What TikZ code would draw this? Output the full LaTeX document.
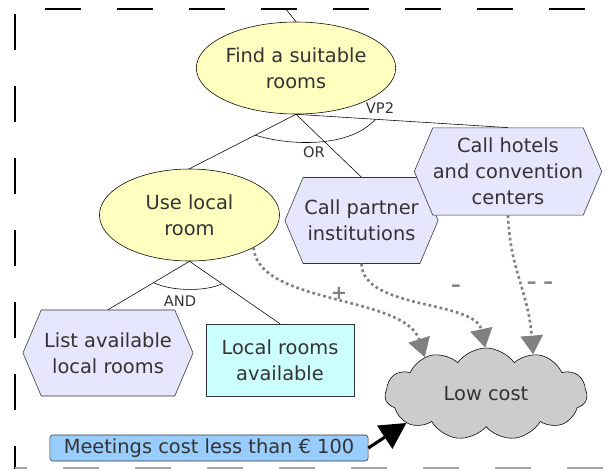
\documentclass[tikz,border=0pt]{standalone}
\usepackage{fontspec}
\setmainfont{DejaVu Sans}
\usetikzlibrary{shapes.geometric,shapes.symbols,arrows.meta,calc}

\definecolor{txt}{RGB}{51,51,51}
\definecolor{goalfill}{RGB}{255,255,192}
\definecolor{taskfill}{RGB}{230,230,255}
\definecolor{resfill}{RGB}{204,255,255}
\definecolor{softfill}{RGB}{204,204,204}
\definecolor{beliefill}{RGB}{153,204,255}
\newcommand{\diafont}{\fontsize{13.8pt}{18.5pt}\selectfont}
\newcommand{\smallfont}{\fontsize{10.4pt}{12pt}\selectfont}

\tikzset{
  goal/.style={ellipse, draw=black, fill=goalfill, text=txt, font=\diafont,
    align=center, inner sep=0pt, minimum width=4.5cm, minimum height=2.3cm},
  task/.style={signal, signal to=west and east, signal pointer angle=134,
    draw=txt, fill=taskfill, text=txt, font=\diafont, align=center,
    inner sep=0pt, minimum height=2.15cm},
  resource/.style={rectangle, draw=txt, fill=resfill, text=txt, font=\diafont,
    align=center, inner sep=0pt, minimum width=3.7cm, minimum height=1.8cm},
  softgoal/.style={cloud, cloud puffs=11, cloud puff arc=110, cloud ignores aspect,
    draw=black, fill=softfill, text=txt, font=\diafont, inner sep=0pt,
    minimum width=5.05cm, minimum height=2.3cm},
  belief/.style={rectangle, rounded corners=2pt, draw=txt, fill=beliefill,
    text=txt, font=\diafont, inner sep=0pt, minimum width=7.95cm,
    minimum height=0.65cm},
  contrib/.style={draw=gray, line width=1.9pt, dash pattern=on 1.9pt off 2.1pt,
    -{Triangle[width=0.55cm,length=0.47cm,fill=gray]}},
  sign/.style={text=gray, font=\diafont\bfseries},
  link/.style={text=txt, font=\smallfont}
}

\begin{document}
\begin{tikzpicture}[x=0.025cm,y=-0.025cm]
    \useasboundingbox (0,0) rectangle (609,469);
    % Boundary
    \draw[line width=1.4pt, dash pattern=on 0.9cm off 0.9cm] (45,9) -- (609,9);
    \draw[line width=1.4pt, dash pattern=on 0.9cm off 0.9cm] (15,14) -- (15,469);
    \draw[gray!70, line width=0.8pt, dash pattern=on 0.9cm off 0.9cm, dash phase=0.6cm] (15,468) -- (609,468);
    % Elements
    \node[goal] (find) at (296,68) {Find a suitable\\rooms};
    \node[goal] (uselocal) at (189.5,215) {Use local\\room};
    \node[task, minimum width=3.83cm] (partner) at (361.5,220.5) {Call partner\\institutions};
    \node[task, minimum width=4.25cm, minimum height=2.18cm] (hotels) at (508,171.5) {Call hotels\\and convention\\centers};
    \node[task, minimum width=4.25cm] (listrooms) at (108,353) {List available\\local rooms};
    \node[resource] (localavail) at (280,360) {Local rooms\\available};
    \node[softgoal] (lowcost) at (486,394) {Low cost};
    \node[belief] (meetings) at (209,448) {Meetings cost less than € 100};
    % Decompositions
    \coordinate (above) at (285,8);
    \draw (above) -- (find.north);
    \draw (find.south) -- (uselocal.north);
    \draw (find.south) -- (partner.north);
    \draw (find.south) -- (hotels.north);
    \draw (uselocal.south) -- (listrooms.north);
    \draw (uselocal.south) -- (localavail.north);
    \draw ($(find.south)!0.383!(uselocal.north)$) .. controls (290,146) and (350,148) .. ($(find.south)!0.374!(hotels.north)$);
    \draw ($(uselocal.south)!0.44!(listrooms.north)$) .. controls (170,291) and (205,292) .. ($(uselocal.south)!0.36!(localavail.north)$);
    \node[link] (vp) at (380,108) {VP2};
    \node[link] (or) at (314,152) {OR};
    \node[link] (and) at (180,301) {AND};
    % Contributions
    \draw[contrib] (uselocal.-27) .. controls (258,305) and (405,295) .. (lowcost.149);
    \draw[contrib] (partner.south) .. controls (363,310) and (475,300) .. (lowcost.91);
    \draw[contrib] (hotels.south) .. controls (510,270) and (528,290) .. (lowcost.40);
    \node[sign] (plus) at (339,293) {+};
    \node[sign] (minus) at (456,288) {–};
    \node[sign] (minus2) at (540,285) {– –};
    \draw[line width=2.2pt, -{Triangle[width=0.68cm,length=0.65cm]}] (meetings.east) -- (lowcost.200);
\end{tikzpicture}
\end{document}
